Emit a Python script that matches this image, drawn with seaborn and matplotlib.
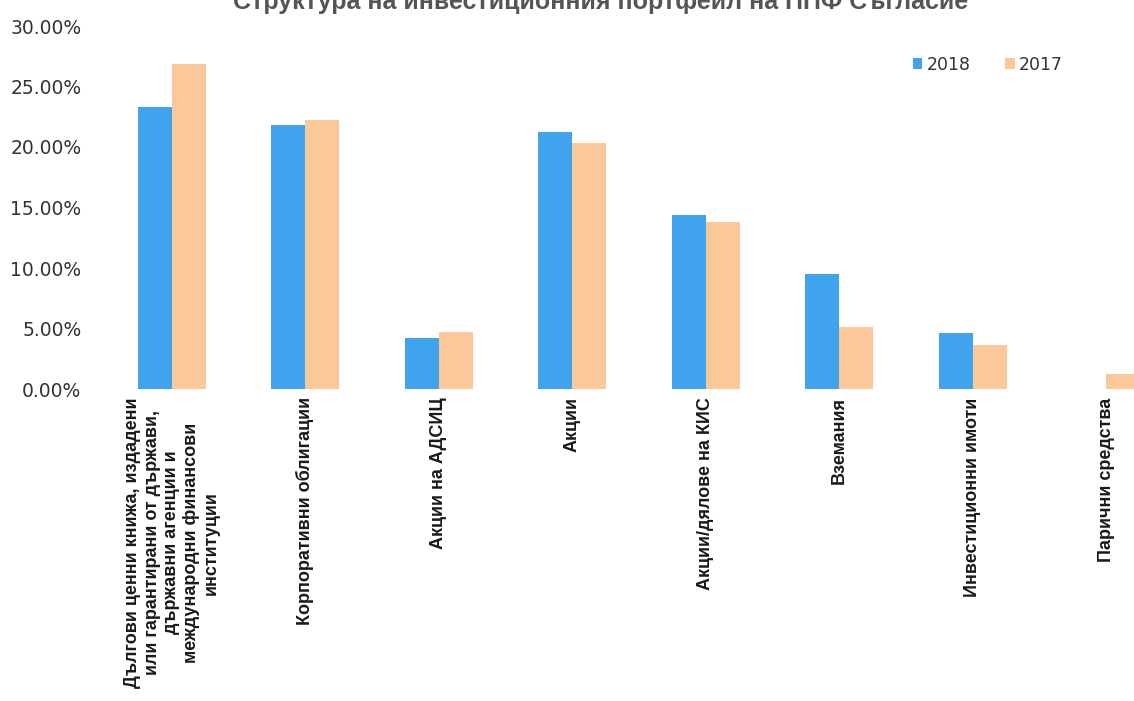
import matplotlib
matplotlib.use("Agg")
import matplotlib.pyplot as plt
import seaborn as sns
import pandas as pd
from matplotlib.ticker import FuncFormatter

categories = [
    "Дългови ценни книжа, издадени\nили гарантирани от държави,\nдържавни агенции и\nмеждународни финансови\nинституции",
    "Корпоративни облигации",
    "Акции на АДСИЦ",
    "Акции",
    "Акции/дялове на КИС",
    "Вземания",
    "Инвестиционни имоти",
    "Парични средства",
]
values_2018 = [0.233, 0.218, 0.042, 0.212, 0.144, 0.095, 0.046, 0.0]
values_2017 = [0.269, 0.222, 0.047, 0.203, 0.138, 0.051, 0.036, 0.012]
years = ["2018", "2017"]
colors = ["#3FA3EE", "#FBC89A"]

df = pd.DataFrame({
    "cat": categories * 2,
    "year": [years[0]] * len(categories) + [years[1]] * len(categories),
    "val": values_2018 + values_2017,
})

sns.set_theme(style="white")
plt.rcParams["font.family"] = ["DejaVu Sans"]

W, H = 1134, 701
fig = plt.figure(figsize=(W / 100, H / 100), dpi=100)
left = 105 / W
right = 1173 / W
bottom = 1 - 389 / H
top = 1 - 26 / H
ax = fig.add_axes([left, bottom, right - left, top - bottom])

sns.barplot(data=df, x="cat", y="val", hue="year", hue_order=years,
            palette=colors, width=0.51, ax=ax, saturation=1, legend=True,
            linewidth=0)

ax.set_ylim(0, 0.30)
ax.set_xlim(-0.5, 7.5)
ax.set_yticks([0, 0.05, 0.10, 0.15, 0.20, 0.25, 0.30])
ax.yaxis.set_major_formatter(FuncFormatter(lambda v, p: f"{v*100:.2f}%"))
ax.tick_params(axis="y", labelsize=13.5, colors="#333333", length=0, pad=17)
ax.tick_params(axis="x", length=0, pad=6)
ax.set_xlabel("")
ax.set_ylabel("")
for s in ax.spines.values():
    s.set_visible(False)

ax.set_xticks(range(len(categories)))
ax.set_xticklabels(categories, rotation=90, ha="center", va="top",
                   multialignment="center", fontsize=13,
                   fontweight="bold", family="Liberation Sans",
                   color="#1a1a1a", linespacing=1.2)

leg = ax.legend(loc="upper left", bbox_to_anchor=(904 / W, 1 - 47 / H),
                bbox_transform=fig.transFigure, ncol=2, frameon=False,
                fontsize=12.5, handlelength=0.55, handleheight=0.6,
                handletextpad=0.25, columnspacing=2.0, borderpad=0)
for t in leg.get_texts():
    t.set_color("#333333")

fig.text(0.53, 1 - 9 / H, "Структура на инвестиционния портфейл на ППФ Съгласие",
         ha="center", va="baseline", fontsize=18, fontweight="bold",
         family="Liberation Sans", color="#555555")

fig.savefig("out.png", dpi=100)
